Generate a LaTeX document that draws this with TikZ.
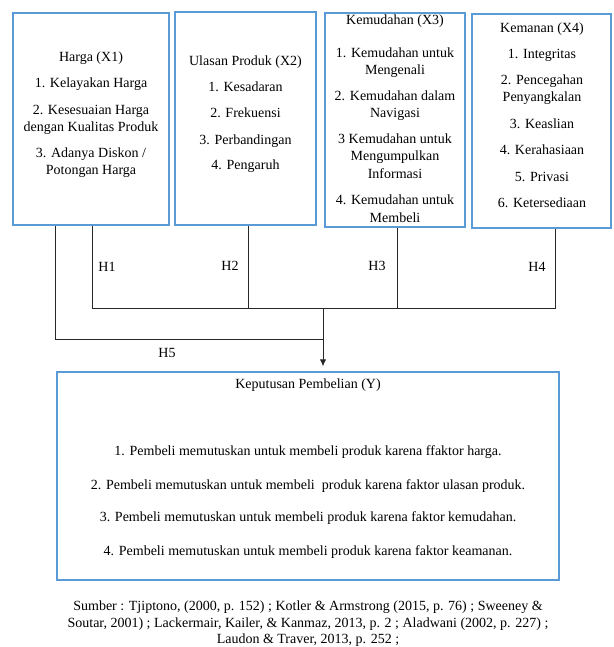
\documentclass[tikz,border=0pt]{standalone}
\usepackage{fontspec}
\setmainfont{Liberation Serif}
\usetikzlibrary{arrows.meta}
\definecolor{boxblue}{HTML}{5B9BD5}
\begin{document}
\begin{tikzpicture}[x=1pt,y=-1pt,
  box/.style={draw=boxblue, line width=1.3pt, inner sep=0pt},
  txt/.style={font=\fontsize{14}{17}\selectfont, align=center, inner sep=0pt, anchor=north},
  hlab/.style={font=\fontsize{14}{17}\selectfont, inner sep=0pt},
  conn/.style={draw=black!85, line width=1pt}]
\useasboundingbox (0,0) rectangle (613,647);
% boxes
\node[box, minimum width=156pt, minimum height=212pt] (x1) at (91,119) {};
\node[box, minimum width=141pt, minimum height=213pt] (x2) at (245.5,118.5) {};
\node[box, minimum width=140pt, minimum height=214pt] (x3) at (395,120) {};
\node[box, minimum width=139pt, minimum height=214pt] (x4) at (541.5,121) {};
\node[box, minimum width=502pt, minimum height=208pt] (y) at (308,476) {};
% texts
\node[txt] (x1t) at (91,52) {Harga (X1)\\[9pt]1. Kelayakan Harga\\[10pt]2. Kesesuaian Harga\\dengan Kualitas Produk\\[9pt]3. Adanya Diskon /\\Potongan Harga};
\node[txt] (x2t) at (245.5,56) {Ulasan Produk (X2)\\[9pt]1. Kesadaran\\[9pt]2. Frekuensi\\[10pt]3. Perbandingan\\[8pt]4. Pengaruh};
\node[txt] (x3t) at (395,14.5) {Kemudahan (X3)\\[16pt]1. Kemudahan untuk\\Mengenali\\[9pt]2. Kemudahan dalam\\Navigasi\\[9pt]3 Kemudahan untuk\\Mengumpulkan\\[1pt]Informasi\\[9pt]4. Kemudahan untuk\\[1pt]Membeli};
\node[txt] (x4t) at (542,23) {Kemanan (X4)\\[9pt]1. Integritas\\[9pt]2. Pencegahan\\Penyangkalan\\[10pt]3. Keaslian\\[9pt]4. Kerahasiaan\\[10pt]5. Privasi\\[9pt]6. Ketersediaan};
\node[txt] (yt) at (308,379) {Keputusan Pembelian (Y)\\[50pt]1. Pembeli memutuskan untuk membeli produk karena ffaktor harga.\\[17pt]2. Pembeli memutuskan untuk membeli~ produk karena faktor ulasan produk.\\[15pt]3. Pembeli memutuskan untuk membeli produk karena faktor kemudahan.\\[17pt]4. Pembeli memutuskan untuk membeli produk karena faktor keamanan.};
\node[txt, font=\fontsize{14}{16.5}\selectfont] (src) at (308,601) {Sumber : Tjiptono, (2000, p. 152) ; Kotler \& Armstrong (2015, p. 76) ; Sweeney \&\\Soutar, 2001) ; Lackermair, Kailer, \& Kanmaz, 2013, p. 2 ; Aladwani (2002, p. 227) ;\\Laudon \& Traver, 2013, p. 252 ;};
% connectors
\coordinate (j1) at (92,308);
\coordinate (j2) at (248,308);
\coordinate (j3) at (397,308);
\coordinate (j4) at (555,308);
\coordinate (bus) at (323,308);
\coordinate (k) at (55,339);
\draw[conn] (j1 |- x1.south) -- (j1) -- (j4) -- (j4 |- x4.south);
\draw[conn] (j2 |- x2.south) -- (j2);
\draw[conn] (j3 |- x3.south) -- (j3);
\draw[conn] (k |- x1.south) -- (k) -- (k -| bus);
\draw[conn, -{Latex[length=7pt,width=6.5pt]}, shorten >=5pt] (bus) -- (bus |- y.north);
% labels
\node[hlab] (h1) at (107,267) {H1};
\node[hlab] (h2) at (230,266) {H2};
\node[hlab] (h3) at (377,266) {H3};
\node[hlab] (h4) at (537,267) {H4};
\node[hlab] (h5) at (167,353) {H5};
\end{tikzpicture}
\end{document}
